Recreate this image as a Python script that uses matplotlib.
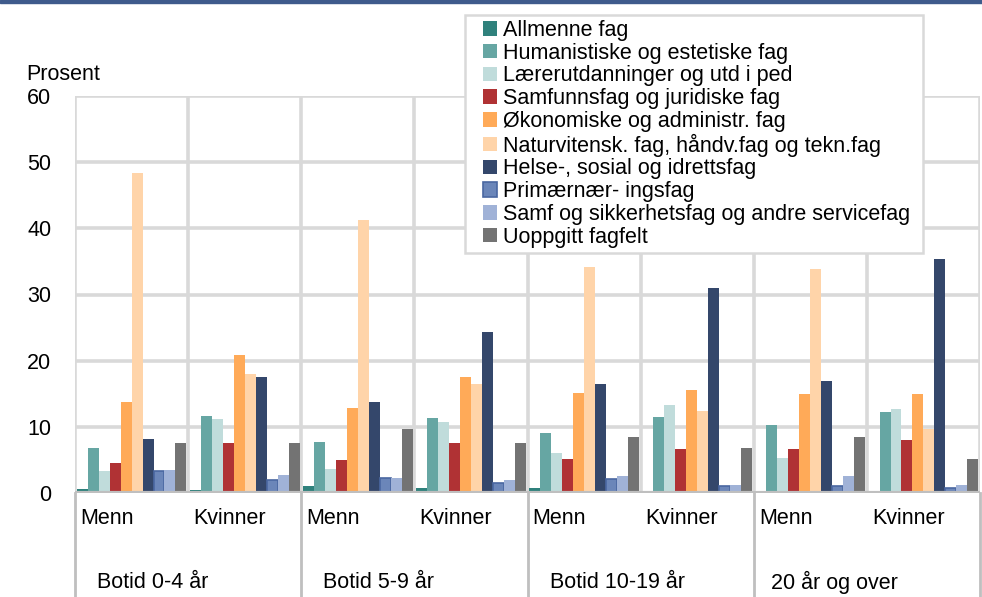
import matplotlib
matplotlib.use("Agg")
import matplotlib.pyplot as plt
from matplotlib.patches import Rectangle
from matplotlib.lines import Line2D
import matplotlib.transforms as mtransforms
import numpy as np

plt.rcParams['font.family'] = ['Liberation Sans', 'DejaVu Sans']

groups = ["Botid 0-4 år", "Botid 5-9 år", "Botid 10-19 år", "20 år og over"]
sexes = ["Menn", "Kvinner"]

series_names = [
    "Allmenne fag",
    "Humanistiske og estetiske fag",
    "Lærerutdanninger og utd i ped",
    "Samfunnsfag og juridiske fag",
    "Økonomiske og administr. fag",
    "Naturvitensk. fag, håndv.fag og tekn.fag",
    "Helse-, sosial og idrettsfag",
    "Primærnær- ingsfag",
    "Samf og sikkerhetsfag og andre servicefag",
    "Uoppgitt fagfelt",
]

# order: M 0-4, K 0-4, M 5-9, K 5-9, M 10-19, K 10-19, M 20+, K 20+
allmenne = [0.6, 0.5, 1.1, 0.7, 0.7, 0.2, 0.0, 0.0]
humanistiske = [6.8, 11.6, 7.7, 11.4, 9.1, 11.5, 10.3, 12.3]
laerer = [3.3, 11.2, 3.6, 10.7, 6.1, 13.3, 5.3, 12.7]
samfunnsfag = [4.5, 7.6, 5.0, 7.6, 5.1, 6.7, 6.6, 8.0]
okonomiske = [13.8, 20.9, 12.8, 17.5, 15.1, 15.5, 14.9, 14.9]
naturvitensk = [48.3, 18.0, 41.3, 16.4, 34.2, 12.4, 33.9, 9.6]
helse = [8.1, 17.5, 13.8, 24.4, 16.4, 31.0, 17.0, 35.3]
primaer = [3.3, 2.0, 2.3, 1.5, 2.1, 1.1, 1.0, 0.75]
samf_sikk = [3.5, 2.7, 2.3, 1.9, 2.5, 1.25, 2.5, 1.25]
uoppgitt = [7.5, 7.6, 9.7, 7.5, 8.5, 6.8, 8.5, 5.2]

all_series = [allmenne, humanistiske, laerer, samfunnsfag, okonomiske,
              naturvitensk, helse, primaer, samf_sikk, uoppgitt]

colors = ["#2f817c", "#66a6a3", "#c0dcdb", "#b03234", "#ffaa58",
          "#ffd4a9", "#34476b", "#6b86b9", "#a0b2d7", "#737373"]
edges = [None, None, None, None, None, None, None, "#4a67a1", None, None]

FS = 15.5
W, H = 982, 597
fig = plt.figure(figsize=(W / 100, H / 100), dpi=100)
left, right, top, bottom = 75, 980, 96, 493
ax = fig.add_axes([left / W, 1 - bottom / H, (right - left) / W, (bottom - top) / H])

ncat = len(groups) * len(sexes)
bw = 0.097
off = 0.015
x0 = np.arange(ncat) - 0.5 + off
handles = []
for j, (vals, c, e) in enumerate(zip(all_series, colors, edges)):
    xs = x0 + (j + 0.5) * bw
    if e:
        h = ax.bar(xs, vals, width=bw, color=c, edgecolor=e, linewidth=1.2, zorder=3,
                   label=series_names[j])
    else:
        h = ax.bar(xs, vals, width=bw, color=c, linewidth=0, zorder=3,
                   label=series_names[j])
    handles.append(h)

ax.set_xlim(-0.5, ncat - 0.5)
ax.set_ylim(0, 60)
ax.set_yticks(np.arange(0, 61, 10))
for y in range(10, 61, 10):
    ax.axhline(y, color="#d9d9d9", lw=2.6, zorder=1)
for xb in np.arange(-0.5, ncat, 1.0):
    ax.axvline(xb, color="#d9d9d9", lw=2.6, zorder=1)
ax.axhline(0, color="#bfbfbf", lw=3, zorder=4)
for s in ax.spines.values():
    s.set_visible(False)
ax.tick_params(axis='y', length=0, pad=17, labelsize=FS)
ax.tick_params(axis='x', length=0, labelbottom=False)
ax.set_xticks([])

trans = mtransforms.blended_transform_factory(ax.transData, ax.transAxes)
ph = bottom - top
cw = (right - left) / ncat
for i in range(ncat):
    ax.text(i - 0.5 + 5 / cw, -(518 - bottom) / ph, sexes[i % 2], transform=trans,
            ha='left', va='center', fontsize=FS)
group_pad = [22, 22, 22, 17]
for g, name in enumerate(groups):
    ax.text(2 * g - 0.5 + group_pad[g] / cw, -(582 - bottom) / ph, name, transform=trans,
            ha='left', va='center', fontsize=FS)
for g in range(len(groups) + 1):
    xb = 2 * g - 0.5
    ax.add_line(Line2D([xb, xb], [0, -0.4], transform=trans, color="#bfbfbf",
                       lw=2, clip_on=False, zorder=2))

fig.text(26 / W, 1 - 75 / H, "Prosent", ha='left', va='center', fontsize=FS)

# legend box (white, light grey border)
fig.add_artist(Rectangle((465 / W, 1 - 253 / H), (923 - 465) / W, (253 - 15) / H,
                         transform=fig.transFigure, facecolor="white",
                         edgecolor="#d9d9d9", linewidth=1.8, zorder=9))
leg = fig.legend(handles, series_names, loc='upper left',
                 bbox_to_anchor=(483 / W, 1 - 20 / H),
                 bbox_transform=fig.transFigure, fontsize=FS, frameon=False,
                 handlelength=0.65, handleheight=0.65, handletextpad=0.3,
                 labelspacing=0.08, borderaxespad=0, borderpad=0)
leg.set_zorder(10)

fig.add_artist(Rectangle((0, 1 - 3 / H), 1, 3 / H, transform=fig.transFigure,
                         color="#3f5b8c", zorder=20))

fig.savefig("out.png", dpi=100)
